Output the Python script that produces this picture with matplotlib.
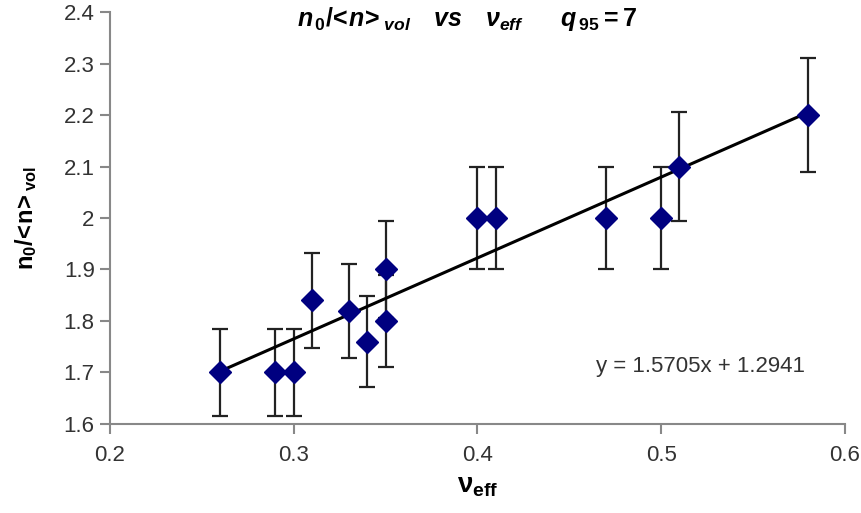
import matplotlib
matplotlib.use("Agg")
import matplotlib.pyplot as plt
import numpy as np
from matplotlib import font_manager

names = {f.name for f in font_manager.fontManager.ttflist}
tick_family = ["Liberation Sans Narrow"] if "Liberation Sans Narrow" in names else ["Liberation Sans"]

plt.rcParams["mathtext.fontset"] = "custom"
plt.rcParams["mathtext.rm"] = "Liberation Sans:bold"
plt.rcParams["mathtext.it"] = "Liberation Sans:bold:italic"
plt.rcParams["mathtext.bf"] = "Liberation Sans:bold"
plt.rcParams["mathtext.sf"] = "Liberation Sans:bold"

# Data
nu_eff = [0.26, 0.29, 0.30, 0.31, 0.33, 0.34, 0.35, 0.35, 0.40, 0.41, 0.47, 0.50, 0.51, 0.58]
n_ratio = [1.70, 1.70, 1.70, 1.84, 1.82, 1.76, 1.90, 1.80, 2.00, 2.00, 2.00, 2.00, 2.10, 2.20]
n_err = [0.085, 0.085, 0.085, 0.092, 0.091, 0.088, 0.095, 0.090, 0.100, 0.100, 0.100, 0.100, 0.105, 0.110]
slope = 1.5705
intercept = 1.2941
fit_x = [0.26, 0.58]
x_ticks = [0.2, 0.3, 0.4, 0.5, 0.6]
x_tick_labels = ["0.2", "0.3", "0.4", "0.5", "0.6"]
y_ticks = [1.6, 1.7, 1.8, 1.9, 2.0, 2.1, 2.2, 2.3, 2.4]
y_tick_labels = ["1.6", "1.7", "1.8", "1.9", "2", "2.1", "2.2", "2.3", "2.4"]

fig = plt.figure(figsize=(8.62, 5.13), dpi=100)
ax = fig.add_axes([0.1276, 0.1735, 0.8524, 0.8031])

ax.errorbar(nu_eff, n_ratio, yerr=n_err, fmt="none", ecolor="#222222",
            elinewidth=1.6, capsize=6, capthick=1.6, zorder=2)
fx = np.array(fit_x)
ax.plot(fx, slope * fx + intercept, color="black", lw=2.2, zorder=3)
ax.plot(nu_eff, n_ratio, linestyle="none", marker="D", markersize=11,
        color="#000080", markeredgecolor="#000080", zorder=4)

ax.set_xlim(0.2, 0.6)
ax.set_ylim(1.6, 2.4)
ax.set_xticks(x_ticks)
ax.set_xticklabels(x_tick_labels, family=tick_family, fontsize=16)
ax.set_yticks(y_ticks)
ax.set_yticklabels(y_tick_labels, family=tick_family, fontsize=16)
for s in ["top", "right"]:
    ax.spines[s].set_visible(False)
for s in ["left", "bottom"]:
    ax.spines[s].set_color("#888888")
    ax.spines[s].set_linewidth(1.5)
ax.tick_params(axis="both", direction="out", length=7, width=1.5, color="#888888",
               labelcolor="#333333")
ax.tick_params(axis="x", pad=8)
ax.tick_params(axis="y", pad=4)

ax.text(0.5215, 1.712, "y = 1.5705x + 1.2941", family=tick_family, fontsize=16,
        color="#333333", ha="center", va="center")

fig.text(0.542, 0.962,
         r"$n_{\,0}/\!<\!n\!>_{vol}$   $vs$   $\nu_{eff}$     $q_{\,95}=7$",
         ha="center", va="center", fontsize=18)

ax.set_xlabel(r"$\mathrm{\nu}_{\mathrm{eff}}$", fontsize=20, labelpad=4)
ax.set_ylabel(r"$\mathrm{n_0/\!<\!n\!>_{vol}}$", fontsize=17, labelpad=18)

fig.savefig("out.png", dpi=100, facecolor="white")
